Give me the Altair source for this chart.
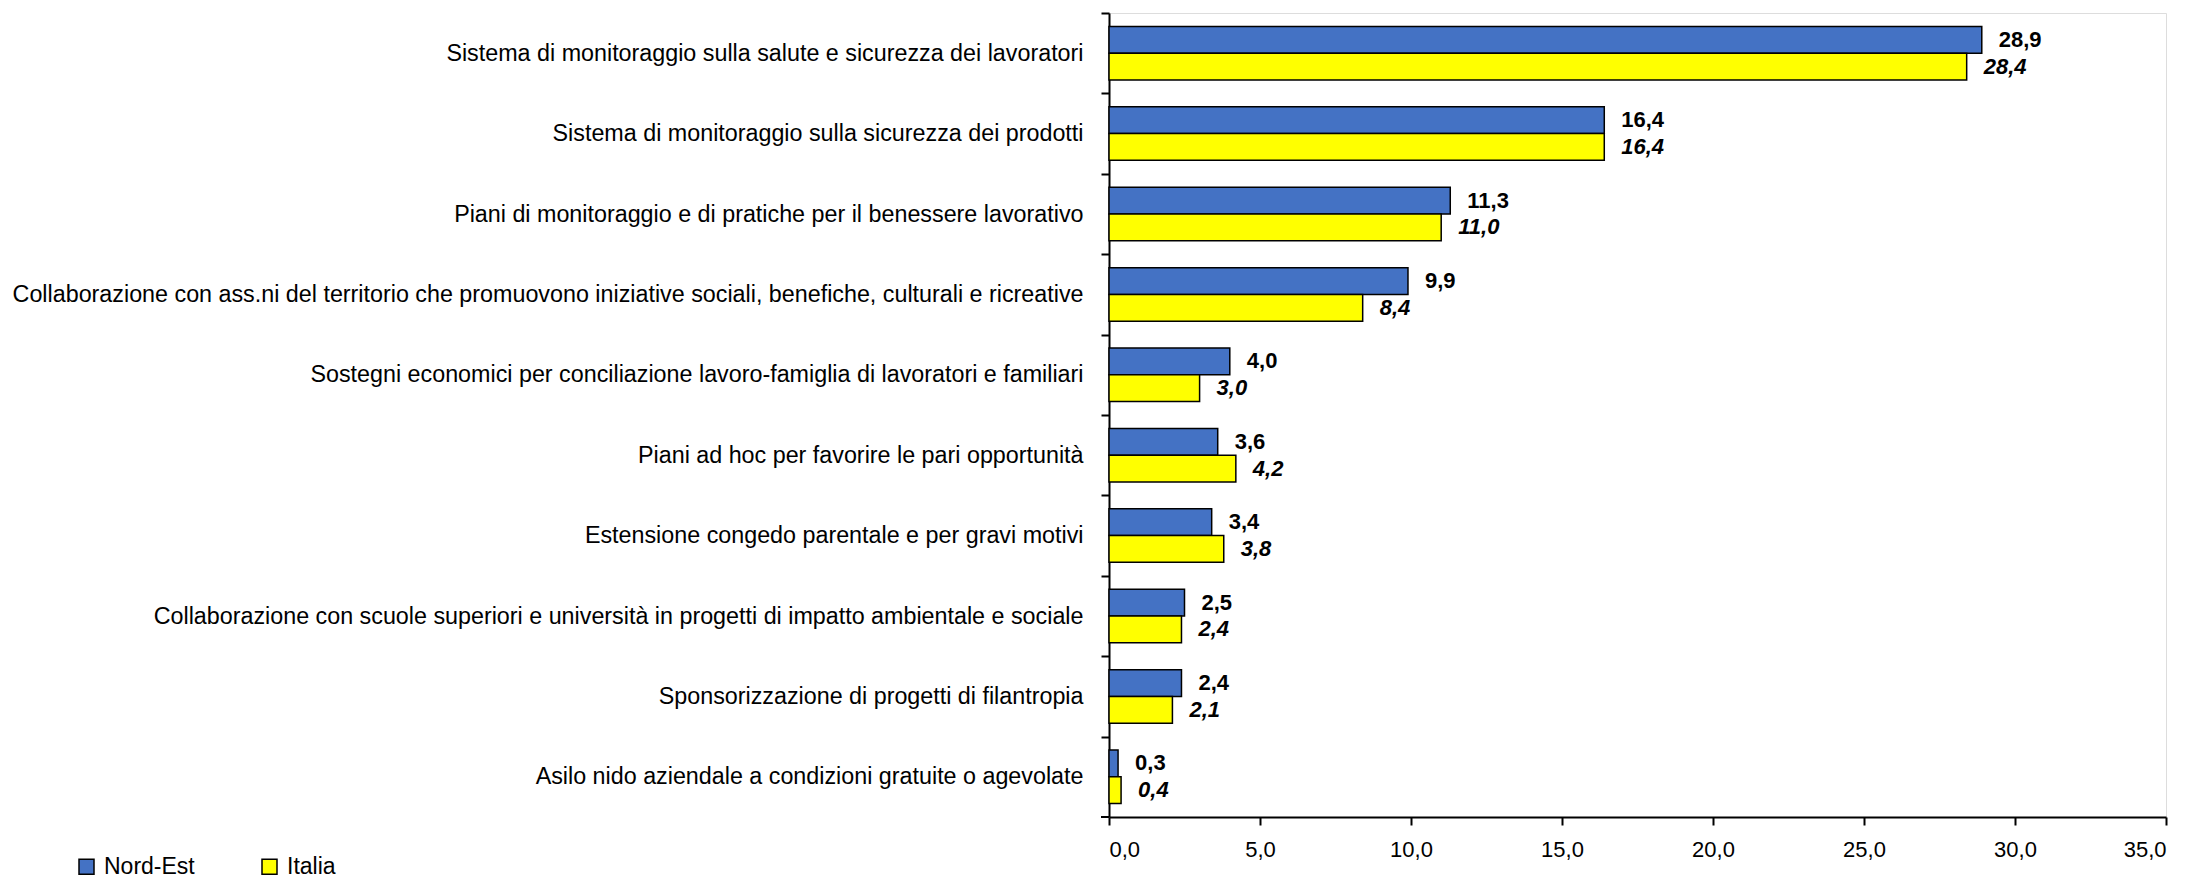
import altair as alt
import pandas as pd

categories = [
    "Sistema di monitoraggio sulla salute e sicurezza dei lavoratori",
    "Sistema di monitoraggio sulla sicurezza dei prodotti",
    "Piani di monitoraggio e di pratiche per il benessere lavorativo",
    "Collaborazione con ass.ni del territorio che promuovono iniziative sociali, benefiche, culturali e ricreative",
    "Sostegni economici per conciliazione lavoro-famiglia di lavoratori e familiari",
    "Piani ad hoc per favorire le pari opportunità",
    "Estensione congedo parentale e per gravi motivi",
    "Collaborazione con scuole superiori e università in progetti di impatto ambientale e sociale",
    "Sponsorizzazione di progetti di filantropia",
    "Asilo nido aziendale a condizioni gratuite o agevolate",
]
nord_est = [28.9, 16.4, 11.3, 9.9, 4.0, 3.6, 3.4, 2.5, 2.4, 0.3]
italia = [28.4, 16.4, 11.0, 8.4, 3.0, 4.2, 3.8, 2.4, 2.1, 0.4]
series = ["Nord-Est", "Italia"]
colors = ["#4472C4", "#FFFF00"]
x_ticks = [0, 5, 10, 15, 20, 25, 30, 35]

rows = []
for c, a, b in zip(categories, nord_est, italia):
    rows.append({"cat": c, "series": series[0], "v": a})
    rows.append({"cat": c, "series": series[1], "v": b})
df = pd.DataFrame(rows)

FONT = "Liberation Sans, Arial"
W, H = 1057, 804
HALF_STEP = H / len(categories) / 2

y_enc = alt.Y(
    "cat:N",
    sort=categories,
    scale=alt.Scale(paddingInner=0.335, paddingOuter=0.1675),
    axis=alt.Axis(
        title=None,
        tickOffset=-HALF_STEP,
        labelOffset=HALF_STEP,
        tickSize=8,
        tickWidth=2,
        tickColor="black",
        domainColor="black",
        domainWidth=2,
        labelFont=FONT,
        labelFontSize=23.3,
        labelColor="black",
        labelPadding=18,
        labelLimit=1200,
    ),
)
yoff = alt.YOffset("series:N", sort=series, scale=alt.Scale(paddingInner=0, paddingOuter=0))
x_enc = alt.X(
    "v:Q",
    scale=alt.Scale(domain=[0, 35], nice=False),
    axis=alt.Axis(
        title=None,
        values=x_ticks,
        grid=False,
        tickSize=8,
        tickWidth=2,
        tickColor="black",
        domainColor="black",
        domainWidth=2,
        labelFont=FONT,
        labelFontSize=22,
        labelColor="black",
        labelPadding=14,
        labelExpr="replace(format(datum.value, '.1f'), '.', ',')",
    ),
)

base = alt.Chart(df).transform_calculate(
    lab="replace(format(datum.v, '.1f'), '.', ',')"
)

bars = base.mark_bar(stroke="black", strokeWidth=1.5).encode(
    x=x_enc,
    y=y_enc,
    yOffset=yoff,
    color=alt.Color(
        "series:N",
        sort=series,
        scale=alt.Scale(domain=series, range=colors),
        legend=alt.Legend(
            title=None,
            orient="none",
            direction="horizontal",
            legendX=-1034,
            legendY=842,
            symbolType="square",
            symbolSize=225,
            symbolStrokeColor="black",
            symbolStrokeWidth=1.5,
            symbolOpacity=1,
            labelFont=FONT,
            labelFontSize=23,
            labelColor="black",
            labelOffset=6,
            columnPadding=63,
            padding=0,
        ),
    ),
)

txt_ne = base.transform_filter(alt.datum.series == series[0]).mark_text(
    align="left", baseline="middle", dx=17, font=FONT, fontSize=22,
    fontWeight="bold", color="black",
).encode(x="v:Q", y=alt.Y("cat:N", sort=categories), yOffset=yoff, text="lab:N")

txt_it = base.transform_filter(alt.datum.series == series[1]).mark_text(
    align="left", baseline="middle", dx=17, font=FONT, fontSize=22,
    fontWeight="bold", fontStyle="italic", color="black",
).encode(x="v:Q", y=alt.Y("cat:N", sort=categories), yOffset=yoff, text="lab:N")

bottom_tick = alt.Chart(df).mark_rule(color="black", strokeWidth=2).encode(
    x=alt.value(-8), x2=alt.value(0), y=alt.value(H)
)

chart = alt.layer(bars, txt_ne, txt_it, bottom_tick).properties(
    width=W,
    height=H,
    autosize=alt.AutoSizeParams(type="none"),
    padding={"left": 1101, "top": 5, "right": 18, "bottom": 65},
).configure_view(stroke=None).configure(background="white")

chart.save("out.html", embed_options={"renderer": "svg", "actions": False})
